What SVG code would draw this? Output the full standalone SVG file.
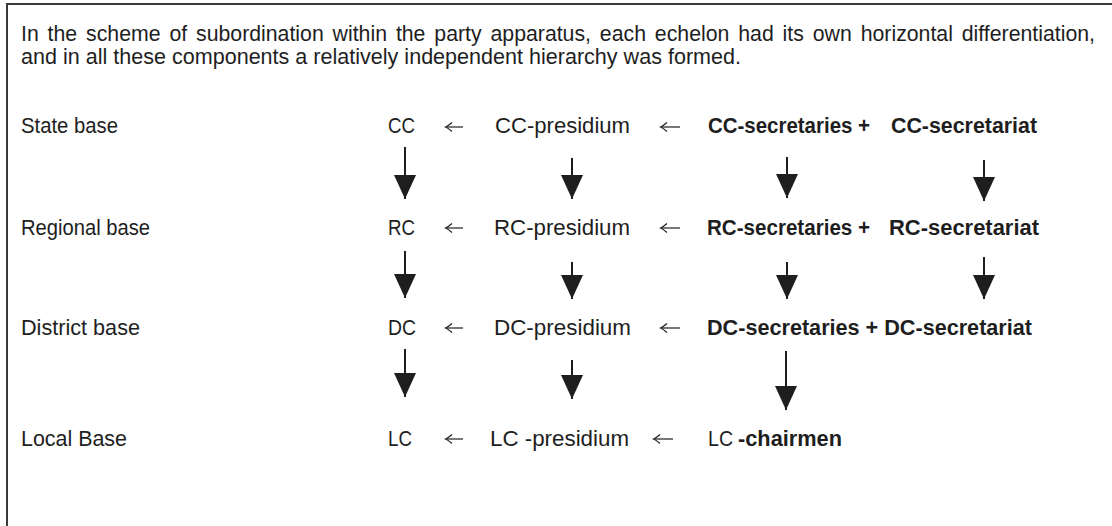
<svg xmlns="http://www.w3.org/2000/svg" width="1112" height="526" viewBox="0 0 1112 526">
<defs>
<style>
text{font-family:"Liberation Sans",Arial,sans-serif;font-size:21.5px;fill:#1e1e1e}
.b{font-weight:bold}
.down{stroke:#1e1e1e;stroke-width:2;fill:none;marker-end:url(#head)}
.left{stroke:#1e1e1e;stroke-width:1.2;fill:none;marker-end:url(#barb)}
</style>
<marker id="head" viewBox="0 0 24 22" markerWidth="24" markerHeight="22" refX="24" refY="11" orient="auto" markerUnits="userSpaceOnUse">
<path d="M0,0 L24,11 L0,22 Z" fill="#1e1e1e"/>
</marker>
<marker id="barb" viewBox="-8 -6 9 12" markerWidth="9" markerHeight="12" refX="0" refY="0" orient="auto" markerUnits="userSpaceOnUse" overflow="visible">
<path d="M-6,-4.5 Q-2,-1 0.5,0 Q-2,1 -6,4.5" stroke="#1e1e1e" stroke-width="1.2" fill="none"/>
</marker>
</defs>
<rect width="1112" height="526" fill="#fff"/>
<path d="M7,526 L7,4 L1112,4" stroke="#3a3a3a" stroke-width="2" fill="none"/>
<g id="intro">
<text x="21" y="41" word-spacing="3" textLength="1074" lengthAdjust="spacingAndGlyphs">In the scheme of subordination within the party apparatus, each echelon had its own horizontal differentiation,</text>
<text x="21" y="64" textLength="720" lengthAdjust="spacingAndGlyphs">and in all these components a relatively independent hierarchy was formed.</text>
</g>
<g id="levels">
<text x="21" y="133" textLength="97" lengthAdjust="spacingAndGlyphs">State base</text>
<text x="21" y="235" textLength="129" lengthAdjust="spacingAndGlyphs">Regional base</text>
<text x="21" y="335" textLength="119" lengthAdjust="spacingAndGlyphs">District base</text>
<text x="21" y="446" textLength="106" lengthAdjust="spacingAndGlyphs">Local Base</text>
</g>
<g id="cc"><text x="388" y="133" textLength="27" lengthAdjust="spacingAndGlyphs">CC</text></g>
<g id="cc-presidium"><text x="495" y="133" textLength="135" lengthAdjust="spacingAndGlyphs">CC-presidium</text></g>
<g id="cc-secretaries"><text class="b" x="708" y="133" textLength="162" lengthAdjust="spacingAndGlyphs">CC-secretaries +</text></g>
<g id="cc-secretariat"><text class="b" x="891" y="133" textLength="146" lengthAdjust="spacingAndGlyphs">CC-secretariat</text></g>
<g id="rc"><text x="388" y="235" textLength="27" lengthAdjust="spacingAndGlyphs">RC</text></g>
<g id="rc-presidium"><text x="494" y="235" textLength="136" lengthAdjust="spacingAndGlyphs">RC-presidium</text></g>
<g id="rc-secretaries"><text class="b" x="707" y="235" textLength="163" lengthAdjust="spacingAndGlyphs">RC-secretaries +</text></g>
<g id="rc-secretariat"><text class="b" x="889" y="235" textLength="150" lengthAdjust="spacingAndGlyphs">RC-secretariat</text></g>
<g id="dc"><text x="388" y="335" textLength="28" lengthAdjust="spacingAndGlyphs">DC</text></g>
<g id="dc-presidium"><text x="494" y="335" textLength="137" lengthAdjust="spacingAndGlyphs">DC-presidium</text></g>
<g id="dc-secretaries"><text class="b" x="707" y="335" textLength="325" lengthAdjust="spacingAndGlyphs">DC-secretaries + DC-secretariat</text></g>
<g id="lc"><text x="388" y="446" textLength="24" lengthAdjust="spacingAndGlyphs">LC</text></g>
<g id="lc-presidium"><text x="490" y="446" textLength="139" lengthAdjust="spacingAndGlyphs">LC -presidium</text></g>
<g id="lc-chairmen"><text x="708" y="446" textLength="25" lengthAdjust="spacingAndGlyphs">LC</text><text class="b" x="738" y="446" textLength="104" lengthAdjust="spacingAndGlyphs">-chairmen</text></g>
<g id="connectors">
<path class="left" d="M463,127 H446"/>
<path class="left" d="M680,127 H661"/>
<path class="left" d="M463,228 H446"/>
<path class="left" d="M680,228 H661"/>
<path class="left" d="M463,328 H446"/>
<path class="left" d="M680,328 H661"/>
<path class="left" d="M463,439 H446"/>
<path class="left" d="M673,439 H654"/>
<path class="down" d="M405,147 V199"/>
<path class="down" d="M572,158 V199"/>
<path class="down" d="M787,157 V198"/>
<path class="down" d="M984,160 V201"/>
<path class="down" d="M405,251 V298"/>
<path class="down" d="M572,262 V299"/>
<path class="down" d="M787,262 V299"/>
<path class="down" d="M984,257 V299"/>
<path class="down" d="M405,349 V397"/>
<path class="down" d="M572,360 V399"/>
<path class="down" d="M786,351 V410"/>
</g>
</svg>
